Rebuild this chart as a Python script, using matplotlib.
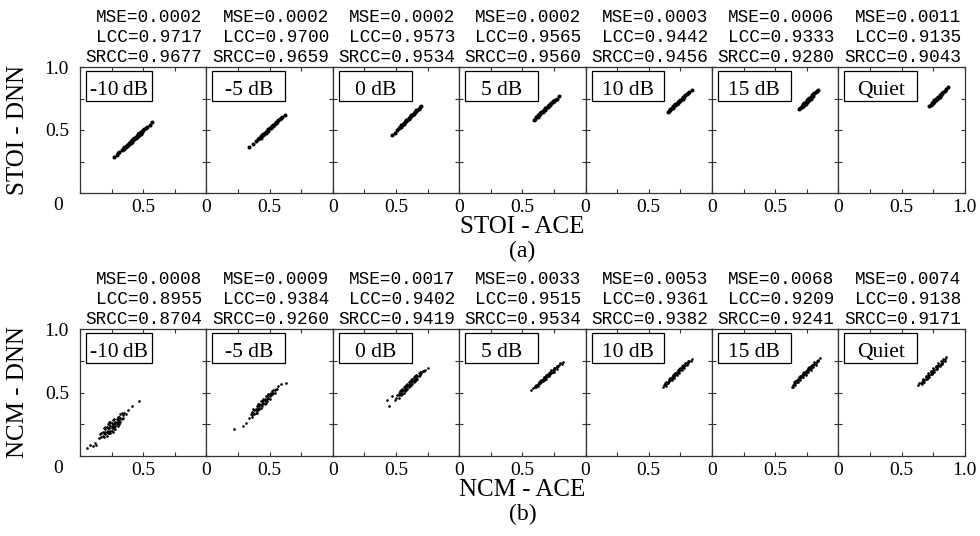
import matplotlib
matplotlib.use("Agg")
import matplotlib.pyplot as plt
from matplotlib.patches import Rectangle

plt.rcParams['font.family'] = ['Liberation Serif', 'DejaVu Serif']

conds = ['-10\u2009dB', '-5 dB', '0 dB', '5 dB', '10 dB', '15 dB', 'Quiet']

# (a) STOI stats
stoi_mse = ['0.0002', '0.0002', '0.0002', '0.0002', '0.0003', '0.0006', '0.0011']
stoi_lcc = ['0.9717', '0.9700', '0.9573', '0.9565', '0.9442', '0.9333', '0.9135']
stoi_srcc = ['0.9677', '0.9659', '0.9534', '0.9560', '0.9456', '0.9280', '0.9043']

# (b) NCM stats
ncm_mse = ['0.0008', '0.0009', '0.0017', '0.0033', '0.0053', '0.0068', '0.0074']
ncm_lcc = ['0.8955', '0.9384', '0.9402', '0.9515', '0.9361', '0.9209', '0.9138']
ncm_srcc = ['0.8704', '0.9260', '0.9419', '0.9534', '0.9382', '0.9241', '0.9171']

# STOI scatter (ACE on x, DNN on y)
stoi_x = [
    [0.27, 0.29, 0.30, 0.31, 0.33, 0.34, 0.35, 0.35, 0.36, 0.37, 0.37, 0.38, 0.39, 0.39, 0.40, 0.40, 0.41, 0.41, 0.42, 0.42,
     0.43, 0.43, 0.44, 0.44, 0.45, 0.45, 0.46, 0.46, 0.47, 0.47, 0.48, 0.48, 0.49, 0.49, 0.50, 0.51, 0.52, 0.53, 0.55, 0.57],
    [0.34, 0.37, 0.39, 0.41, 0.42, 0.43, 0.43, 0.44, 0.45, 0.45, 0.46, 0.47, 0.47, 0.48, 0.49, 0.49, 0.50, 0.51, 0.51, 0.52,
     0.53, 0.53, 0.54, 0.55, 0.55, 0.56, 0.57, 0.58, 0.59, 0.60, 0.62],
    [0.47, 0.49, 0.51, 0.52, 0.53, 0.54, 0.54, 0.55, 0.56, 0.56, 0.57, 0.58, 0.58, 0.59, 0.60, 0.60, 0.61, 0.62, 0.62, 0.63,
     0.64, 0.64, 0.65, 0.66, 0.66, 0.67, 0.68, 0.69, 0.70],
    [0.59, 0.60, 0.61, 0.62, 0.62, 0.63, 0.64, 0.64, 0.65, 0.66, 0.66, 0.67, 0.68, 0.68, 0.69, 0.70, 0.70, 0.71, 0.72, 0.72,
     0.73, 0.74, 0.74, 0.75, 0.76, 0.77, 0.79],
    [0.65, 0.66, 0.67, 0.67, 0.68, 0.69, 0.69, 0.70, 0.71, 0.71, 0.72, 0.73, 0.73, 0.74, 0.75, 0.75, 0.76, 0.77, 0.77, 0.78,
     0.79, 0.80, 0.81, 0.82, 0.84],
    [0.69, 0.70, 0.71, 0.71, 0.72, 0.72, 0.73, 0.73, 0.74, 0.74, 0.75, 0.75, 0.76, 0.76, 0.77, 0.77, 0.78, 0.78, 0.79, 0.79,
     0.80, 0.80, 0.81, 0.82, 0.83, 0.84],
    [0.72, 0.73, 0.74, 0.74, 0.75, 0.75, 0.76, 0.76, 0.77, 0.77, 0.78, 0.78, 0.79, 0.79, 0.80, 0.80, 0.81, 0.81, 0.82, 0.83,
     0.84, 0.85, 0.865],
]
stoi_y = [
    [0.285, 0.300, 0.318, 0.325, 0.345, 0.350, 0.352, 0.365, 0.362, 0.372, 0.383, 0.380, 0.392, 0.400, 0.398, 0.410, 0.408, 0.420, 0.418, 0.428,
     0.425, 0.438, 0.436, 0.447, 0.444, 0.455, 0.455, 0.465, 0.462, 0.474, 0.472, 0.484, 0.482, 0.492, 0.498, 0.505, 0.514, 0.520, 0.538, 0.560],
    [0.363, 0.388, 0.412, 0.425, 0.440, 0.440, 0.452, 0.458, 0.460, 0.470, 0.476, 0.478, 0.488, 0.494, 0.496, 0.506, 0.512, 0.514, 0.524, 0.530,
     0.532, 0.542, 0.550, 0.552, 0.562, 0.566, 0.576, 0.585, 0.595, 0.600, 0.620],
    [0.46, 0.48, 0.50, 0.515, 0.52, 0.525, 0.537, 0.54, 0.548, 0.556, 0.56, 0.568, 0.578, 0.58, 0.588, 0.597, 0.60, 0.608, 0.617, 0.62,
     0.628, 0.637, 0.64, 0.648, 0.657, 0.66, 0.668, 0.68, 0.69],
    [0.58, 0.585, 0.602, 0.604, 0.616, 0.62, 0.624, 0.634, 0.64, 0.642, 0.653, 0.658, 0.661, 0.672, 0.676, 0.680, 0.690, 0.696, 0.700, 0.709,
     0.714, 0.719, 0.728, 0.734, 0.742, 0.75, 0.77],
    [0.645, 0.650, 0.668, 0.658, 0.673, 0.678, 0.688, 0.692, 0.696, 0.706, 0.710, 0.714, 0.724, 0.728, 0.732, 0.742, 0.746, 0.750, 0.760, 0.765,
     0.774, 0.782, 0.792, 0.800, 0.82],
    [0.67, 0.675, 0.69, 0.68, 0.705, 0.69, 0.715, 0.70, 0.725, 0.71, 0.735, 0.72, 0.745, 0.73, 0.755, 0.74, 0.765, 0.75, 0.775, 0.76,
     0.785, 0.77, 0.79, 0.80, 0.81, 0.82],
    [0.69, 0.70, 0.715, 0.705, 0.725, 0.715, 0.735, 0.725, 0.745, 0.735, 0.755, 0.745, 0.765, 0.755, 0.775, 0.765, 0.785, 0.775, 0.795, 0.80,
     0.81, 0.825, 0.84],
]

# NCM scatter
ncm_x = [
    [0.058, 0.079, 0.10, 0.12, 0.127, 0.15, 0.16, 0.17, 0.18, 0.18, 0.19, 0.20, 0.20, 0.21, 0.21, 0.22, 0.22, 0.23, 0.23, 0.24,
     0.24, 0.25, 0.25, 0.26, 0.26, 0.27, 0.27, 0.28, 0.28, 0.29, 0.29, 0.30, 0.30, 0.31, 0.32, 0.32, 0.33, 0.34, 0.35, 0.36,
     0.19, 0.26, 0.31, 0.23, 0.38, 0.41, 0.47],
    [0.22, 0.29, 0.31, 0.34, 0.35, 0.36, 0.36, 0.37, 0.38, 0.38, 0.39, 0.40, 0.40, 0.41, 0.42, 0.42, 0.43, 0.44, 0.44, 0.45,
     0.46, 0.46, 0.47, 0.48, 0.48, 0.49, 0.50, 0.50, 0.51, 0.52, 0.53, 0.54, 0.55, 0.57, 0.59, 0.63, 0.39, 0.45, 0.49],
    [0.425, 0.445, 0.47, 0.49, 0.50, 0.51, 0.52, 0.52, 0.53, 0.54, 0.54, 0.55, 0.56, 0.56, 0.57, 0.58, 0.58, 0.59, 0.60, 0.60,
     0.61, 0.62, 0.62, 0.63, 0.64, 0.64, 0.65, 0.66, 0.66, 0.67, 0.68, 0.69, 0.70, 0.71, 0.73, 0.75, 0.57, 0.63],
    [0.57, 0.58, 0.60, 0.61, 0.62, 0.62, 0.63, 0.64, 0.64, 0.65, 0.66, 0.66, 0.67, 0.68, 0.68, 0.69, 0.70, 0.70, 0.71, 0.72,
     0.72, 0.73, 0.74, 0.74, 0.75, 0.76, 0.77, 0.78, 0.80, 0.82],
    [0.61, 0.62, 0.63, 0.64, 0.64, 0.65, 0.66, 0.66, 0.67, 0.68, 0.68, 0.69, 0.70, 0.70, 0.71, 0.72, 0.72, 0.73, 0.74, 0.74,
     0.75, 0.76, 0.76, 0.77, 0.78, 0.79, 0.80, 0.81, 0.82, 0.84],
    [0.63, 0.64, 0.65, 0.66, 0.66, 0.67, 0.68, 0.68, 0.69, 0.70, 0.70, 0.71, 0.72, 0.72, 0.73, 0.74, 0.74, 0.75, 0.76, 0.76,
     0.77, 0.78, 0.78, 0.79, 0.80, 0.81, 0.82, 0.83, 0.84, 0.855],
    [0.63, 0.65, 0.66, 0.67, 0.67, 0.68, 0.69, 0.69, 0.70, 0.71, 0.71, 0.72, 0.73, 0.73, 0.74, 0.75, 0.75, 0.76, 0.77, 0.77,
     0.78, 0.79, 0.79, 0.80, 0.81, 0.82, 0.83, 0.84, 0.85],
]
ncm_y = [
    [0.061, 0.087, 0.08, 0.105, 0.087, 0.14, 0.17, 0.15, 0.19, 0.16, 0.18, 0.21, 0.17, 0.19, 0.23, 0.20, 0.25, 0.22, 0.18, 0.24,
     0.20, 0.26, 0.22, 0.23, 0.28, 0.25, 0.21, 0.27, 0.24, 0.29, 0.25, 0.27, 0.31, 0.28, 0.30, 0.33, 0.29, 0.32, 0.34, 0.33,
     0.22, 0.19, 0.25, 0.27, 0.36, 0.39, 0.435],
    [0.21, 0.24, 0.26, 0.30, 0.33, 0.32, 0.35, 0.34, 0.36, 0.33, 0.37, 0.39, 0.36, 0.38, 0.41, 0.37, 0.40, 0.43, 0.39, 0.42,
     0.45, 0.41, 0.44, 0.47, 0.43, 0.46, 0.49, 0.45, 0.48, 0.51, 0.50, 0.52, 0.53, 0.55, 0.565, 0.575, 0.34, 0.44, 0.49],
    [0.44, 0.39, 0.47, 0.44, 0.46, 0.48, 0.50, 0.46, 0.49, 0.52, 0.48, 0.51, 0.54, 0.50, 0.53, 0.56, 0.52, 0.55, 0.58, 0.54,
     0.57, 0.60, 0.56, 0.59, 0.62, 0.58, 0.61, 0.64, 0.60, 0.63, 0.65, 0.66, 0.65, 0.67, 0.68, 0.69, 0.55, 0.61],
    [0.52, 0.535, 0.54, 0.56, 0.555, 0.57, 0.575, 0.575, 0.59, 0.59, 0.59, 0.605, 0.61, 0.61, 0.625, 0.625, 0.63, 0.645, 0.645, 0.645,
     0.66, 0.665, 0.665, 0.68, 0.68, 0.69, 0.70, 0.71, 0.73, 0.74],
    [0.54, 0.56, 0.565, 0.57, 0.585, 0.585, 0.59, 0.605, 0.60, 0.61, 0.625, 0.62, 0.63, 0.645, 0.64, 0.65, 0.665, 0.66, 0.67, 0.685,
     0.68, 0.69, 0.705, 0.70, 0.71, 0.72, 0.73, 0.735, 0.745, 0.76],
    [0.545, 0.56, 0.57, 0.575, 0.59, 0.585, 0.595, 0.61, 0.605, 0.615, 0.63, 0.625, 0.635, 0.65, 0.645, 0.655, 0.67, 0.665, 0.675, 0.69,
     0.685, 0.695, 0.71, 0.705, 0.715, 0.725, 0.735, 0.745, 0.755, 0.77],
    [0.56, 0.575, 0.58, 0.585, 0.60, 0.595, 0.605, 0.62, 0.615, 0.625, 0.64, 0.635, 0.645, 0.66, 0.655, 0.665, 0.68, 0.675, 0.685, 0.70,
     0.695, 0.705, 0.72, 0.715, 0.725, 0.735, 0.75, 0.76, 0.78],
]

# more NCM points filling the dense cores
ncm_x2 = [
    [0.17, 0.19, 0.20, 0.21, 0.22, 0.23, 0.24, 0.24, 0.25, 0.26, 0.27, 0.27, 0.28, 0.29, 0.30, 0.30, 0.31, 0.32, 0.33, 0.34,
     0.22, 0.25, 0.28, 0.20],
    [0.36, 0.37, 0.39, 0.40, 0.41, 0.42, 0.43, 0.43, 0.44, 0.45, 0.46, 0.47, 0.47, 0.48, 0.49, 0.50, 0.51, 0.52, 0.53, 0.54,
     0.56, 0.41],
    [0.52, 0.53, 0.54, 0.55, 0.55, 0.56, 0.57, 0.57, 0.58, 0.59, 0.59, 0.60, 0.61, 0.61, 0.62, 0.63, 0.63, 0.64, 0.65, 0.65,
     0.66, 0.67, 0.68, 0.69, 0.70, 0.72],
    [0.60, 0.61, 0.63, 0.63, 0.65, 0.65, 0.67, 0.67, 0.69, 0.69, 0.71, 0.71, 0.73, 0.73, 0.75, 0.75, 0.77, 0.77, 0.79, 0.81],
    [0.63, 0.64, 0.65, 0.66, 0.67, 0.68, 0.69, 0.70, 0.71, 0.72, 0.73, 0.74, 0.75, 0.76, 0.77, 0.78, 0.79, 0.80, 0.81, 0.83],
    [0.64, 0.65, 0.66, 0.67, 0.68, 0.69, 0.70, 0.71, 0.72, 0.73, 0.74, 0.75, 0.76, 0.77, 0.78, 0.79, 0.80, 0.81, 0.82, 0.84],
    [0.64, 0.66, 0.67, 0.68, 0.69, 0.70, 0.71, 0.72, 0.73, 0.74, 0.75, 0.76, 0.77, 0.78, 0.79, 0.80, 0.81, 0.82, 0.83, 0.84],
]
ncm_y2 = [
    [0.18, 0.15, 0.23, 0.16, 0.22, 0.25, 0.18, 0.27, 0.20, 0.25, 0.29, 0.23, 0.21, 0.27, 0.24, 0.29, 0.31, 0.27, 0.34, 0.30,
     0.18, 0.24, 0.26, 0.19],
    [0.31, 0.37, 0.36, 0.34, 0.41, 0.39, 0.38, 0.43, 0.41, 0.45, 0.43, 0.42, 0.47, 0.45, 0.48, 0.47, 0.50, 0.49, 0.52, 0.50,
     0.53, 0.36],
    [0.48, 0.51, 0.50, 0.49, 0.53, 0.52, 0.51, 0.54, 0.54, 0.57, 0.53, 0.56, 0.59, 0.55, 0.58, 0.61, 0.57, 0.60, 0.63, 0.59,
     0.62, 0.61, 0.63, 0.64, 0.66, 0.67],
    [0.555, 0.545, 0.565, 0.585, 0.60, 0.58, 0.595, 0.62, 0.64, 0.61, 0.63, 0.655, 0.675, 0.65, 0.665, 0.69, 0.71, 0.685, 0.72, 0.725],
    [0.575, 0.555, 0.575, 0.59, 0.615, 0.60, 0.635, 0.615, 0.655, 0.635, 0.675, 0.655, 0.695, 0.68, 0.715, 0.695, 0.735, 0.715, 0.745, 0.75],
    [0.545, 0.58, 0.56, 0.60, 0.58, 0.62, 0.60, 0.64, 0.62, 0.66, 0.64, 0.68, 0.66, 0.70, 0.68, 0.72, 0.70, 0.74, 0.72, 0.745],
    [0.575, 0.565, 0.61, 0.585, 0.63, 0.605, 0.65, 0.625, 0.67, 0.645, 0.69, 0.665, 0.71, 0.685, 0.73, 0.705, 0.75, 0.725, 0.765, 0.745],
]

W, H = 980, 536
fig = plt.figure(figsize=(W / 100, H / 100), dpi=100)

left0, pw = 80, 126.4
rows = [
    (67, 126, stoi_x, stoi_y, None, None, stoi_mse, stoi_lcc, stoi_srcc, 'STOI - DNN', 'STOI - ACE', '(a)', 2.9),
    (329, 127, ncm_x, ncm_y, ncm_x2, ncm_y2, ncm_mse, ncm_lcc, ncm_srcc, 'NCM - DNN', 'NCM - ACE', '(b)', 1.9),
]
edge = '#333333'

for top, ph, xs, ys, xs2, ys2, mse, lcc, srcc, ylab, xlab, tag, ms in rows:
    for i in range(7):
        l = left0 + i * pw
        ax = fig.add_axes([l / W, 1 - (top + ph) / H, pw / W, ph / H])
        ax.plot(xs[i], ys[i], 'o', color='k', ms=ms, mew=0)
        if xs2 is not None:
            ax.plot(xs2[i], ys2[i], 'o', color='k', ms=ms, mew=0)
        ax.set_xlim(0, 1)
        ax.set_ylim(0, 1)
        ax.set_xticks([0, 0.25, 0.5, 0.75, 1])
        ax.set_yticks([0, 0.25, 0.5, 0.75, 1])
        xl = ['0', '', '0.5', '', '']
        if i == 0:
            xl[0] = ''
        if i == 6:
            xl[4] = '1.0'
        ax.set_xticklabels(xl)
        if i == 0:
            ax.set_yticklabels(['', '', '0.5', '', '1.0'])
            ax.text(-0.17, -0.035, '0', transform=ax.transAxes, ha='center', va='top', fontsize=14)
        else:
            ax.set_yticklabels([])
        ax.tick_params(direction='in', top=True, right=True, length=3, width=0.8,
                       color=edge, labelsize=14, pad=4)
        ax.tick_params(axis='y', pad=8)
        for s in ax.spines.values():
            s.set_color(edge)
            s.set_linewidth(0.9)
        # condition box
        bw = 66 if i == 0 else 72.7
        ax.add_patch(Rectangle((6 / pw, 1 - 34 / ph), bw / pw, 30 / ph, transform=ax.transAxes,
                               fill=False, ec='k', lw=0.9))
        ax.text((6 + bw / 2) / pw, 1 - 28 / ph, conds[i], transform=ax.transAxes,
                ha='center', va='baseline', fontsize=15.5)
        # stats above panel
        rx = (l + pw - 4) / W
        for k, txt in enumerate(['MSE=' + mse[i], 'LCC=' + lcc[i], 'SRCC=' + srcc[i]]):
            fig.text(rx, 1 - (top - 49 + k * 20) / H, txt, ha='right', va='center',
                     family='Liberation Mono', fontsize=12.8)
    fig.text(18 / W, 1 - (top + ph / 2) / H, ylab, rotation=90, ha='center', va='center', fontsize=18)
    fig.text(522.5 / W, 1 - (top + ph + 34) / H, xlab, ha='center', va='center', fontsize=18)
    fig.text(522.5 / W, 1 - (top + ph + 58) / H, tag, ha='center', va='center', fontsize=17)

fig.savefig('out.png', dpi=100)
